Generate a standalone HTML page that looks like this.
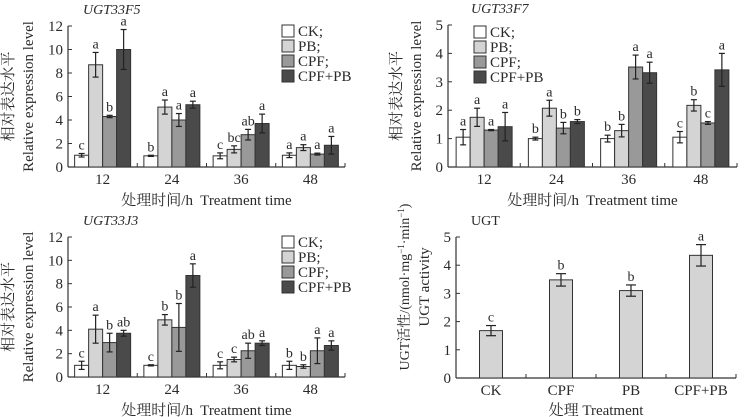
<!DOCTYPE html>
<html><head><meta charset="utf-8">
<style>
html,body{margin:0;padding:0;background:#fff;}
svg{display:block;font-family:"Liberation Serif","Noto Serif CJK SC","Noto Sans CJK SC",serif;}
</style></head>
<body>
<svg id="chart" width="748" height="417" viewBox="0 0 748 417" xmlns="http://www.w3.org/2000/svg"></svg>
<script>
const groups = ["12","24","36","48"];
const seriesNames = ["CK;","PB;","CPF;","CPF+PB"];
const seriesColors = ["#ffffff","#d4d4d4","#999999","#4a4a4a"];

const f5Values = [[1,0.95,0.95,1],[8.7,5.1,1.5,1.65],[4.3,4.0,2.75,1.1],[10,5.3,3.7,1.85]];
const f5Errors = [[0.15,0.05,0.25,0.2],[1.05,0.6,0.3,0.25],[0.1,0.55,0.45,0.08],[1.7,0.3,0.8,0.75]];
const f5Letters = [["c","b","c","a"],["a","a","bc","a"],["b","a","ab","a"],["a","a","a","a"]];
const f5Ticks = [0,2,4,6,8,10,12];

const f7Values = [[1.05,1.0,1.0,1.05],[1.75,2.07,1.28,2.17],[1.3,1.37,3.52,1.55],[1.42,1.6,3.32,3.42]];
const f7Errors = [[0.27,0.05,0.12,0.2],[0.32,0.28,0.22,0.2],[0.02,0.2,0.42,0.05],[0.5,0.07,0.37,0.58]];
const f7Letters = [["a","b","b","c"],["a","a","b","b"],["a","b","a","c"],["a","b","a","a"]];
const f7Ticks = [0,1,2,3,4,5];

const j3Values = [[1,1,1,1],[4.1,4.9,1.5,0.9],[2.95,4.25,2.25,2.25],[3.75,8.7,2.9,2.7]];
const j3Errors = [[0.35,0.05,0.3,0.35],[1.2,0.45,0.2,0.15],[0.8,2.05,0.65,1.1],[0.25,1.0,0.2,0.4]];
const j3Letters = [["c","c","c","b"],["a","b","c","b"],["b","b","ab","a"],["ab","a","a","a"]];
const j3Ticks = [0,2,4,6,8,10,12];

const ugtCats = ["CK","CPF","PB","CPF+PB"];
const ugtValues = [1.68,3.48,3.1,4.35];
const ugtErrors = [0.18,0.22,0.2,0.38];
const ugtLetters = ["c","b","b","a"];
const ugtTicks = [0,1,2,3,4,5];

const svg = document.getElementById('chart');
const NS = "http://www.w3.org/2000/svg";
function el(tag, attrs, parent){
  const e = document.createElementNS(NS, tag);
  for (const k in attrs) e.setAttribute(k, attrs[k]);
  (parent||svg).appendChild(e);
  return e;
}
function txt(s, attrs, parent){ const t = el('text', attrs, parent); t.textContent = s; return t; }

function axes(g, x0, x1, y0, y1, ticks, maxV, nBands, name){
  const ys = v => y0 - (v/maxV)*(y0-y1);
  const ya = el('line',{x1:x0,y1:y0,x2:x0,y2:y1,stroke:'#333','stroke-width':1.2},g);
  
  
  const xa = el('line',{x1:x0,y1:y0,x2:x1,y2:y0,stroke:'#333','stroke-width':1.2},g);
  
  
  ticks.forEach(t=>{
    const y = ys(t);
    el('line',{x1:x0,y1:y,x2:x0+4,y2:y,stroke:'#333','stroke-width':1},g);
    const l = txt(String(t),{x:x0-5,y:y+5,'text-anchor':'end','font-size':15,fill:'#2a2a2a'},g);
    
    
  });
  const bw = (x1-x0)/nBands;
  for(let i=0;i<=nBands;i++){
    const x = x0+i*bw;
    el('line',{x1:x,y1:y0,x2:x,y2:y0-4,stroke:'#333','stroke-width':1},g);
  }
  return ys;
}

function errbar(g, cx, top, bot, capW){
  el('line',{x1:cx,y1:top,x2:cx,y2:bot,stroke:'#222','stroke-width':1.2},g);
  el('line',{x1:cx-capW,y1:top,x2:cx+capW,y2:top,stroke:'#222','stroke-width':1.2},g);
  el('line',{x1:cx-capW,y1:bot,x2:cx+capW,y2:bot,stroke:'#222','stroke-width':1.2},g);
}

function groupedPanel(opt){
  const g = el('g',{});
  
  
  const {x0,x1,y0,y1,maxV} = opt;
  const ys = axes(g,x0,x1,y0,y1,opt.ticks,maxV,groups.length,opt.name);
  const bandW = (x1-x0)/groups.length;
  const bw = 14;
  groups.forEach((gr,gi)=>{
    const gx = x0 + bandW*gi + bandW/2 - bw*2;
    opt.values.forEach((ser,si)=>{
      const v = ser[gi], e = opt.errors[si][gi];
      const x = gx + si*bw;
      const r = el('rect',{x:x,y:ys(v),width:bw,height:y0-ys(v),fill:seriesColors[si],stroke:'#333','stroke-width':1},g);
      
      
      errbar(g, x+bw/2, ys(v+e), ys(v-e), 3);
      const lt = txt(opt.letters[si][gi],{x:x+bw/2,y:ys(v+e)-4,'text-anchor':'middle','font-size':14,fill:'#2a2a2a'},g);
      
      
    });
    const xl = txt(gr,{x:x0+bandW*gi+bandW/2,y:y0+17,'text-anchor':'middle','font-size':15,fill:'#2a2a2a'},g);
    
    
  });
  const title = txt(opt.title,{x:opt.titleX,y:y1-12,'font-size':14,'font-style':'italic',fill:'#2a2a2a'},g);
  
  
  const xt = txt('处理时间/h\u00a0 Treatment time',{x:(x0+x1)/2,y:y0+38,'text-anchor':'middle','font-size':15,fill:'#2a2a2a'},g);
  
  
  const cy = (y0+y1)/2;
  const yt1 = txt('相对表达水平',{x:0,y:0,transform:`translate(${opt.ylabX+5},${cy}) rotate(-90)`,'text-anchor':'middle','font-size':15,fill:'#2a2a2a'},g);
  
  
  const yt2 = txt('Relative expression level',{x:0,y:0,transform:`translate(${opt.ylabX+25},${cy}) rotate(-90)`,'text-anchor':'middle','font-size':15,fill:'#2a2a2a'},g);
  
  
  const lg = el('g',{},g);
  
  
  seriesNames.forEach((s,i)=>{
    const yy = opt.legY + i*15;
    const b = el('rect',{x:opt.legX,y:yy-6,width:12,height:12,fill:seriesColors[i],stroke:'#333','stroke-width':1},lg);
    
    
    const t = txt(s,{x:opt.legX+16,y:yy+5,'font-size':15,fill:'#2a2a2a'},lg);
    
    
  });
}

groupedPanel({name:'ugt33f5-panel',title:'UGT33F5',titleX:83,x0:68,x1:345,y0:167,y1:26,maxV:12,ticks:f5Ticks,values:f5Values,errors:f5Errors,letters:f5Letters,ylabX:8,legX:282,legY:31});
groupedPanel({name:'ugt33f7-panel',title:'UGT33F7',titleX:471,x0:448,x1:737,y0:167,y1:25,maxV:5,ticks:f7Ticks,values:f7Values,errors:f7Errors,letters:f7Letters,ylabX:396,legX:474,legY:32});
groupedPanel({name:'ugt33j3-panel',title:'UGT33J3',titleX:83,x0:68,x1:345,y0:377,y1:237,maxV:12,ticks:j3Ticks,values:j3Values,errors:j3Errors,letters:j3Letters,ylabX:8,legX:282,legY:242});

(function(){
  const g = el('g',{});
  
  
  const x0=456,x1=736,y0=378,y1=237;
  const ys = axes(g,x0,x1,y0,y1,ugtTicks,5,ugtCats.length,'ugt');
  const bandW=(x1-x0)/ugtCats.length, bw=23;
  ugtCats.forEach((c,i)=>{
    const cx = x0+bandW*i+bandW/2;
    const v = ugtValues[i], e = ugtErrors[i];
    const r = el('rect',{x:cx-bw/2,y:ys(v),width:bw,height:y0-ys(v),fill:'#d4d4d4',stroke:'#333','stroke-width':1},g);
    
    
    errbar(g,cx,ys(v+e),ys(v-e),5);
    const lt = txt(ugtLetters[i],{x:cx,y:ys(v+e)-4,'text-anchor':'middle','font-size':14,fill:'#2a2a2a'},g);
    
    
    const xl = txt(c,{x:cx,y:y0+17,'text-anchor':'middle','font-size':15,fill:'#2a2a2a'},g);
    
    
  });
  const title = txt('UGT',{x:471,y:y1-12,'font-size':14,fill:'#2a2a2a'},g);
  
  
  const xt = txt('处理 Treatment',{x:596,y:y0+37,'text-anchor':'middle','font-size':15,fill:'#2a2a2a'},g);
  
  
  const yt1 = el('text',{transform:'translate(409,287) rotate(-90)','text-anchor':'middle','font-size':14,fill:'#2a2a2a'},g);
  yt1.innerHTML = 'UGT活性/(nmol·mg<tspan dy="-5" font-size="9">−1</tspan><tspan dy="5">·min</tspan><tspan dy="-5" font-size="9">−1</tspan><tspan dy="5">)</tspan>';
  
  
  const yt2 = txt('UGT activity',{transform:'translate(429,287) rotate(-90)','text-anchor':'middle','font-size':15,fill:'#2a2a2a'},g);
  
  
})();
</script>
</body></html>
